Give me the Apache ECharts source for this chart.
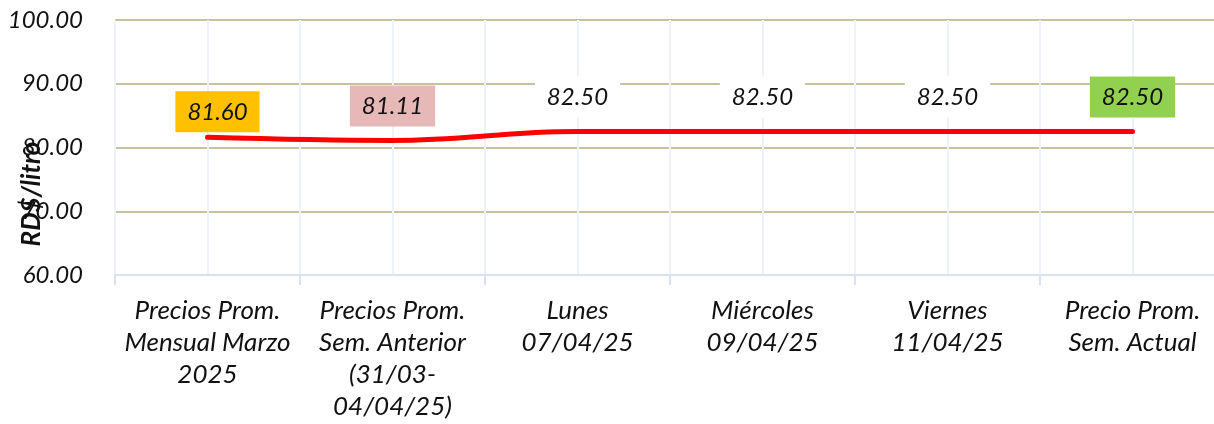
<!DOCTYPE html>
<html><head><meta charset="utf-8">
<script src="https://cdn.jsdelivr.net/npm/echarts@6/dist/echarts.min.js"></script>
<style>html,body{margin:0;padding:0;background:#fff}#c{width:1214px;height:424px}</style>
</head><body><div id="c"></div>
<script>
const categories = [
  "Precios Prom.\nMensual Marzo\n2025",
  "Precios Prom.\nSem. Anterior\n(31/03-\n04/04/25)",
  "Lunes\n07/04/25",
  "Miércoles\n09/04/25",
  "Viernes\n11/04/25",
  "Precio Prom.\nSem. Actual"
];
const prices = [81.60, 81.11, 82.50, 82.50, 82.50, 82.50];
const yTicks = { min: 60, max: 100, interval: 10 };
const yName = "RD$/litro";

const labelBg = ['#FFC000', '#E6B8B7', '#ffffff', '#ffffff', '#ffffff', '#92D050'];
const labelDist = [5, 14, 14, 14, 14, 14];
const labelDx = [10, 0, 0, 0, 0, 0];
const FONT = 'Lato, "Noto Sans", sans-serif';

const chart = echarts.init(document.getElementById('c'));
chart.setOption({
  animation: false,
  grid: { left: 115, top: 20, right: -11, bottom: 149, containLabel: false, outerBoundsMode: 'none' },
  xAxis: [{
    type: 'category', data: categories, boundaryGap: true,
    axisLine: { show: true, lineStyle: { color: '#D9E2F3', width: 2 } },
    axisTick: { show: true, length: 10, lineStyle: { color: '#D9E2F3', width: 2 } },
    splitLine: { show: true, lineStyle: { color: '#D9E2F3', width: 2 } },
    axisLabel: { interval: 0, margin: 20, fontFamily: FONT, fontStyle: 'italic', fontSize: 26, lineHeight: 32, color: '#111' }
  }, {
    type: 'value', min: 0, max: 6, interval: 0.5, position: 'bottom',
    axisLine: { show: false }, axisTick: { show: false }, axisLabel: { show: false },
    splitLine: { show: true, lineStyle: { color: '#EEF3FA', width: 2 } }
  }],
  yAxis: {
    type: 'value', min: yTicks.min, max: yTicks.max, interval: yTicks.interval,
    axisLine: { show: false }, axisTick: { show: false },
    splitLine: { show: true, lineStyle: { color: ['#D9E2F3', '#C9C0A0', '#C9C0A0', '#C9C0A0', '#C9C0A0'], width: 2 } },
    axisLabel: { margin: 32, fontFamily: FONT, fontStyle: 'italic', fontSize: 24, color: '#111', formatter: v => v.toFixed(2) }
  },
  graphic: [{
    type: 'text', x: 32, y: 194, rotation: Math.PI / 2, z: 100,
    style: { text: yName, font: 'italic bold 26px ' + FONT, fill: '#111', textAlign: 'center', textVerticalAlign: 'middle' }
  }],
  series: [{
    type: 'line', xAxisIndex: 0, smooth: 0.4, showSymbol: true, symbol: 'circle', symbolSize: 0,
    lineStyle: { color: '#FF0000', width: 5, cap: 'round' },
    itemStyle: { color: '#FF0000' },
    data: prices.map((v, i) => ({
      value: v,
      label: {
        show: true, position: 'top', distance: labelDist[i], offset: [labelDx[i], 0],
        formatter: p => p.value.toFixed(2),
        backgroundColor: labelBg[i], padding: [8, 12, 8, 12],
        fontFamily: FONT, fontStyle: 'italic', fontSize: 24, lineHeight: 25, color: '#111'
      }
    }))
  }]
});
</script></body></html>
